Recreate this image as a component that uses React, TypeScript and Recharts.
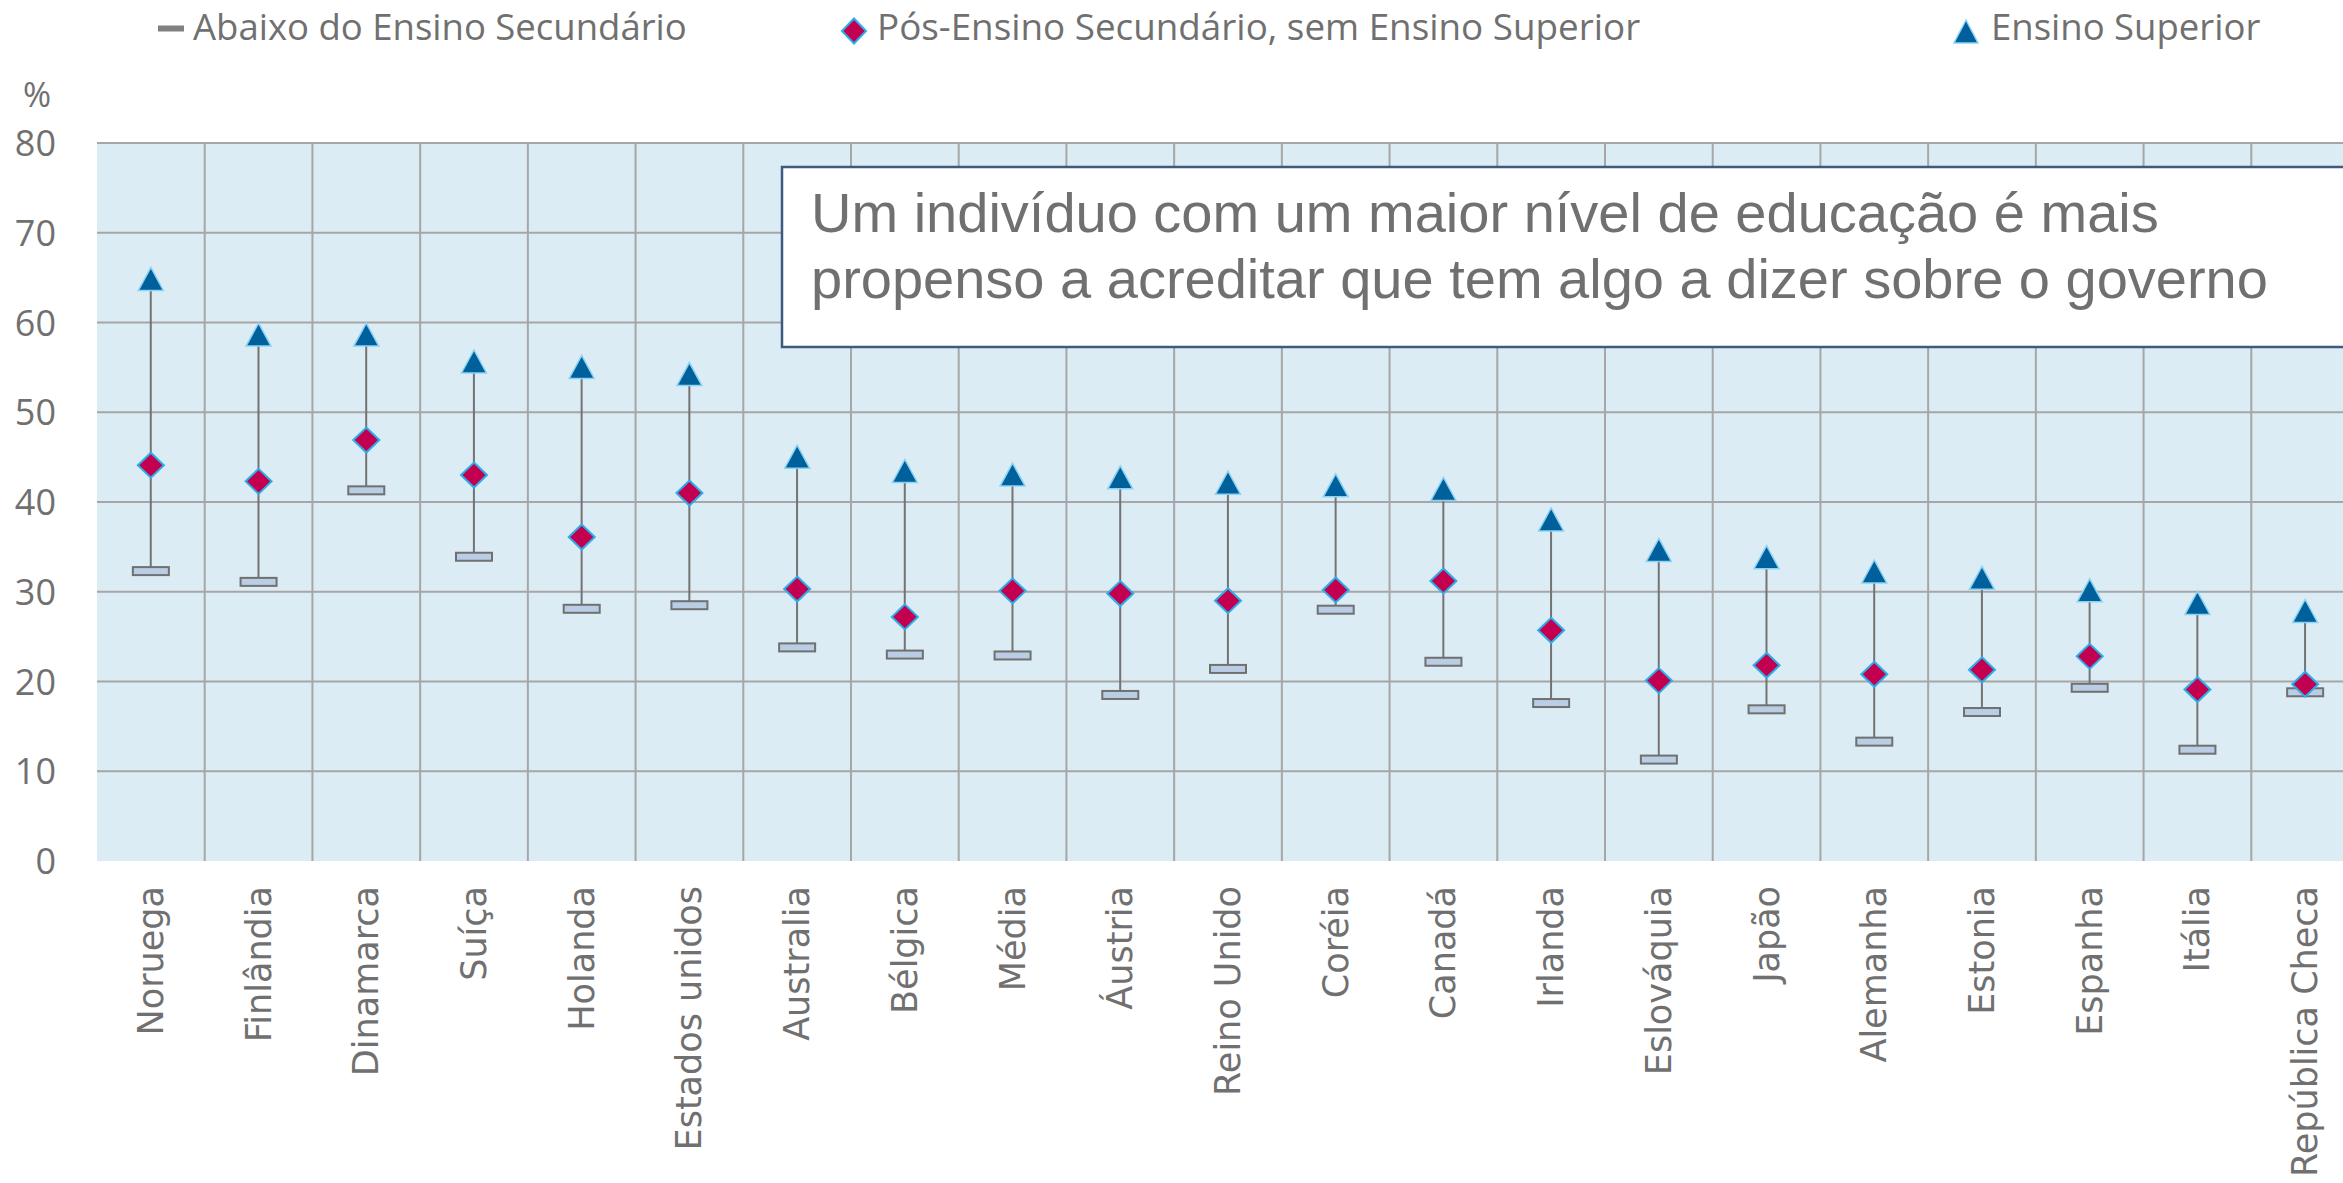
import React from 'react';
import { ComposedChart, Bar, Line, XAxis, YAxis, CartesianGrid } from 'recharts';

const categories = [
  'Noruega', 'Finlândia', 'Dinamarca', 'Suíça', 'Holanda', 'Estados unidos', 'Australia',
  'Bélgica', 'Média', 'Áustria', 'Reino Unido', 'Coréia', 'Canadá', 'Irlanda', 'Eslováquia',
  'Japão', 'Alemanha', 'Estonia', 'Espanha', 'Itália', 'República Checa',
];
// Abaixo do Ensino Secundário
const belowSecondary = [32.3, 31.1, 41.3, 33.9, 28.1, 28.5, 23.8, 23.0, 22.9, 18.5, 21.4, 28.0, 22.2, 17.6, 11.3, 16.9, 13.3, 16.6, 19.3, 12.4, 18.8];
// Pós-Ensino Secundário, sem Ensino Superior
const postSecondary = [44.1, 42.3, 46.9, 43.0, 36.1, 41.0, 30.3, 27.2, 30.1, 29.8, 29.0, 30.2, 31.2, 25.7, 20.1, 21.8, 20.8, 21.3, 22.8, 19.1, 19.7];
// Ensino Superior
const tertiary = [64.8, 58.6, 58.6, 55.6, 55.0, 54.2, 45.0, 43.4, 43.0, 42.7, 42.1, 41.8, 41.4, 38.0, 34.6, 33.8, 32.2, 31.5, 30.1, 28.7, 27.8];
const yTicks = [0, 10, 20, 30, 40, 50, 60, 70, 80];

const data = categories.map((name, i) => ({
  name,
  low: belowSecondary[i],
  mid: postSecondary[i],
  high: tertiary[i],
  range: [belowSecondary[i], tertiary[i]],
}));

const TEXT = '#707070';
const LEGEND_FONT = '"Open Sans", sans-serif';

const HighLowLine = (props: any) => {
  const { x, y, width, height } = props;
  const cx = x + width / 2;
  const top = Math.min(y, y + height);
  const bottom = Math.max(y, y + height);
  return <line x1={cx} y1={top} x2={cx} y2={bottom} stroke="#737373" strokeWidth={2} />;
};

const DashDot = (props: any) => {
  const { cx, cy, index } = props;
  if (cx == null || cy == null) return <g key={`l-${index}`} />;
  return (
    <rect key={`l-${index}`} x={cx - 18} y={cy - 4} width={36} height={8}
      fill="#B9CDE5" stroke="#707070" strokeWidth={2} />
  );
};

const DiamondDot = (props: any) => {
  const { cx, cy, index } = props;
  if (cx == null || cy == null) return <g key={`m-${index}`} />;
  return (
    <polygon key={`m-${index}`}
      points={`${cx},${cy - 12.5} ${cx + 13},${cy} ${cx},${cy + 12.5} ${cx - 13},${cy}`}
      fill="#C2004F" stroke="#2BAEEA" strokeWidth={2} />
  );
};

const TriangleDot = (props: any) => {
  const { cx, cy, index } = props;
  if (cx == null || cy == null) return <g key={`h-${index}`} />;
  return (
    <polygon key={`h-${index}`}
      points={`${cx},${cy - 12} ${cx + 12.5},${cy + 11} ${cx - 12.5},${cy + 11}`}
      fill="#00609C" stroke="#8AD3F5" strokeWidth={1.5} />
  );
};

const XTick = (props: any) => {
  const { x, y, payload } = props;
  return (
    <text transform={`translate(${x},${y + 25}) rotate(-90)`} y={12} textAnchor="end"
      fontFamily='"DejaVu Sans", Verdana, sans-serif' fontSize={35} fill={TEXT}>
      {payload.value}
    </text>
  );
};

const YTick = (props: any) => {
  const { x, y, payload } = props;
  return (
    <text x={x} y={y} dy={13} textAnchor="end" fontFamily={LEGEND_FONT} fontSize={36} fill={TEXT}>
      {payload.value}
    </text>
  );
};

const gridValues = yTicks.filter(v => v > 0);

const Overlay = () => (
  <svg width={2343} height={1183} style={{ position: 'absolute', left: 0, top: 0, pointerEvents: 'none' }}>
    {/* legenda */}
    <rect x={158} y={25.5} width={26} height={6} fill="#808080" />
    <text x={193} y={40} fontFamily={LEGEND_FONT} fontSize={36.5} fill={TEXT}>Abaixo do Ensino Secundário</text>
    <polygon points="854,18.5 866,31 854,43.5 842,31" fill="#C2004F" stroke="#2BAEEA" strokeWidth={2} />
    <text x={877} y={40} fontFamily={LEGEND_FONT} fontSize={36.8} fill={TEXT}>Pós-Ensino Secundário, sem Ensino Superior</text>
    <polygon points="1966,20 1978,43 1954,43" fill="#00609C" stroke="#8AD3F5" strokeWidth={1.5} />
    <text x={1991} y={40} fontFamily={LEGEND_FONT} fontSize={36.5} fill={TEXT}>Ensino Superior</text>
    {/* unidade */}
    <text x={23} y={107} fontFamily={LEGEND_FONT} fontSize={34} fill={TEXT}>%</text>
    {/* caixa de texto */}
    <rect x={782} y={167} width={1700} height={180} fill="#FFFFFF" stroke="#3E5A80" strokeWidth={2.5} />
    <text x={811} y={232} fontFamily='"Liberation Sans", Arial, sans-serif' fontSize={56} fill={TEXT}>
      Um indivíduo com um maior nível de educação é mais
    </text>
    <text x={811} y={298} fontFamily='"Liberation Sans", Arial, sans-serif' fontSize={56} fill={TEXT}>
      propenso a acreditar que tem algo a dizer sobre o governo
    </text>
  </svg>
);

export default function App() {
  return (
    <div style={{ position: 'fixed', left: 0, top: 0, width: 2343, height: 1183, overflow: 'hidden', background: '#FFFFFF' }}>
      <ComposedChart width={2360} height={1183} data={data} margin={{ top: 143, right: 1, bottom: 0, left: 0 }}>
        <CartesianGrid
          fill="#DCECF4"
          stroke="#A6A6A6"
          strokeWidth={2}
          horizontalCoordinatesGenerator={({ offset }: any) =>
            gridValues.map(v => offset.top + offset.height * (1 - v / 80))}
          verticalCoordinatesGenerator={({ offset }: any) =>
            categories.map((_, i) => offset.left + ((i + 1) * offset.width) / categories.length)}
        />
        <XAxis dataKey="name" interval={0} axisLine={false} tickLine={false} tickSize={0} tickMargin={0}
          height={322} tick={<XTick />} />
        <YAxis domain={[0, 80]} ticks={yTicks} axisLine={false} tickLine={false} tickSize={0} tickMargin={41}
          width={97} tick={<YTick />} />
        <Bar dataKey="range" shape={<HighLowLine />} isAnimationActive={false} />
        <Line dataKey="low" stroke="none" dot={DashDot} activeDot={false} isAnimationActive={false} />
        <Line dataKey="mid" stroke="none" dot={DiamondDot} activeDot={false} isAnimationActive={false} />
        <Line dataKey="high" stroke="none" dot={TriangleDot} activeDot={false} isAnimationActive={false} />
      </ComposedChart>
      <Overlay />
    </div>
  );
}
